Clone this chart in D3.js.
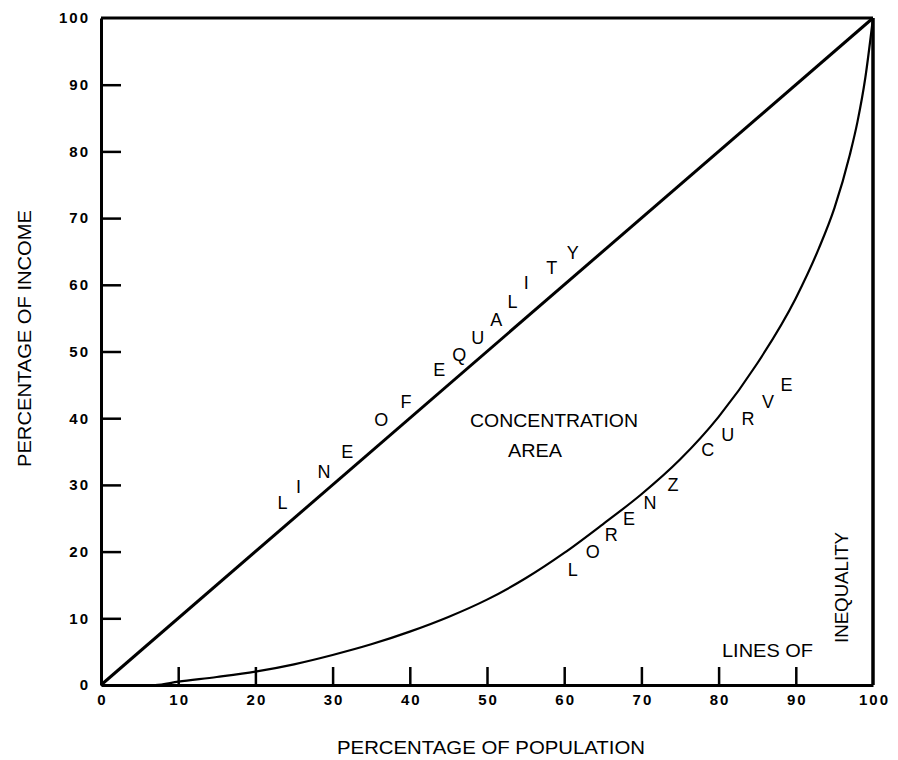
<!DOCTYPE html>
<html>
<head>
<meta charset="utf-8">
<script src="https://cdn.jsdelivr.net/npm/d3@7"></script>
<style>
  html, body { margin: 0; padding: 0; background: #fff; }
  svg { display: block; }
  text { font-family: "Liberation Sans", Arial, sans-serif; fill: #000; }
</style>
</head>
<body>
<svg id="chart" width="898" height="760"></svg>
<script>
// ---- data ----
const xTickValues = [0, 10, 20, 30, 40, 50, 60, 70, 80, 90, 100];
const yTickValues = [0, 10, 20, 30, 40, 50, 60, 70, 80, 90, 100];

const equalityX = [0, 100];
const equalityY = [0, 100];

const lorenzX = [0, 5, 7, 10, 15, 20, 25, 30, 35, 40, 45, 50, 55, 60, 65, 70, 75, 80, 85, 90, 93, 95, 97, 98, 99, 100];
const lorenzY = [0, 0, 0, 0.5, 1.2, 2.0, 3.1, 4.5, 6.1, 8.0, 10.2, 12.8, 16.0, 19.8, 24.1, 28.6, 33.8, 40.2, 48.2, 58.0, 65.5, 71.5, 79.5, 84.5, 91.0, 100];

const equalityLetters = ["L","I","N","E","O","F","E","Q","U","A","L","I","T","Y"];
const equalityLetterX = [23.5, 25.6, 28.9, 31.9, 36.3, 39.5, 43.8, 46.4, 48.8, 51.2, 53.3, 55.1, 58.4, 61.1];
const equalityLetterY = [27.3, 29.7, 31.9, 34.9, 39.7, 42.4, 47.2, 49.5, 52.0, 54.7, 57.4, 60.3, 62.5, 64.8];

const lorenzLetters = ["L","O","R","E","N","Z","C","U","R","V","E"];
const lorenzLetterX = [61.1, 63.7, 66.1, 68.4, 71.1, 74.1, 78.6, 81.2, 83.8, 86.4, 88.8];
const lorenzLetterY = [17.2, 19.9, 22.5, 24.9, 27.3, 30.0, 35.2, 37.5, 39.9, 42.4, 45.0];

const xTitle = "PERCENTAGE OF POPULATION";
const yTitle = "PERCENTAGE OF INCOME";
const areaLabel1 = "CONCENTRATION";
const areaLabel2 = "AREA";
const inequalityLabel1 = "LINES OF";
const inequalityLabel2 = "INEQUALITY";

// ---- layout ----
const svg = d3.select("#chart");
const x = d3.scaleLinear().domain([0, 100]).range([101, 873]);
const y = d3.scaleLinear().domain([0, 100]).range([685, 18]);

// frame: top and right lines
svg.append("line").attr("x1", x(0)).attr("x2", x(100)).attr("y1", y(100)).attr("y2", y(100))
  .attr("stroke", "#000").attr("stroke-width", 3);
svg.append("line").attr("x1", x(100)).attr("x2", x(100)).attr("y1", y(0)).attr("y2", y(100))
  .attr("stroke", "#000").attr("stroke-width", 3.5);

// left axis (ticks pointing inward)
const yAxis = d3.axisLeft(y).tickValues(yTickValues).tickSize(0).tickPadding(12);
const gy = svg.append("g").attr("transform", `translate(${x(0)},0)`).call(yAxis);
gy.select(".domain").attr("stroke", "#000").attr("stroke-width", 3);
gy.selectAll("text").attr("font-size", 15).attr("font-weight", "bold")
  .attr("letter-spacing", 2).attr("dx", "1");
gy.selectAll(".tick")
  .filter(d => d > 0 && d < 100)
  .append("line").attr("x1", 0).attr("x2", 20).attr("stroke", "#000").attr("stroke-width", 2.5);

// bottom axis (ticks pointing inward)
const xAxis = d3.axisBottom(x).tickValues(xTickValues).tickSize(0).tickPadding(12);
const gx = svg.append("g").attr("transform", `translate(0,${y(0)})`).call(xAxis);
gx.select(".domain").attr("stroke", "#000").attr("stroke-width", 3);
gx.selectAll("text").attr("font-size", 15).attr("font-weight", "bold")
  .attr("letter-spacing", 2).attr("dx", "1").attr("dy", "0.55em");
gx.selectAll(".tick")
  .filter(d => d > 0 && d < 100)
  .append("line").attr("y1", 0).attr("y2", -18).attr("stroke", "#000").attr("stroke-width", 2.5);

// line of equality
const eqData = equalityX.map((v, i) => [v, equalityY[i]]);
svg.append("path").datum(eqData)
  .attr("d", d3.line().x(d => x(d[0])).y(d => y(d[1])))
  .attr("fill", "none").attr("stroke", "#000").attr("stroke-width", 3);

// lorenz curve
const lzData = lorenzX.map((v, i) => [v, lorenzY[i]]);
svg.append("path").datum(lzData)
  .attr("d", d3.line().x(d => x(d[0])).y(d => y(d[1])).curve(d3.curveMonotoneX))
  .attr("fill", "none").attr("stroke", "#000").attr("stroke-width", 2.2);

// letters along curves
function letters(chars, xs, ys) {
  svg.append("g").selectAll("text").data(chars).join("text")
    .attr("x", (d, i) => x(xs[i]))
    .attr("y", (d, i) => y(ys[i]))
    .attr("text-anchor", "middle")
    .attr("dominant-baseline", "central")
    .attr("font-size", 18)
    .text(d => d);
}
letters(equalityLetters, equalityLetterX, equalityLetterY);
letters(lorenzLetters, lorenzLetterX, lorenzLetterY);

// concentration area
svg.append("text").attr("x", 554).attr("y", 427).attr("text-anchor", "middle")
  .attr("font-size", 19).attr("textLength", 168).attr("lengthAdjust", "spacingAndGlyphs")
  .text(areaLabel1);
svg.append("text").attr("x", 535).attr("y", 457).attr("text-anchor", "middle")
  .attr("font-size", 19).attr("textLength", 54).attr("lengthAdjust", "spacingAndGlyphs")
  .text(areaLabel2);

// lines of inequality
svg.append("text").attr("x", 722).attr("y", 657)
  .attr("font-size", 19).attr("textLength", 91).attr("lengthAdjust", "spacingAndGlyphs")
  .text(inequalityLabel1);
svg.append("text").attr("transform", "translate(848,643) rotate(-90)")
  .attr("font-size", 19).attr("textLength", 111).attr("lengthAdjust", "spacingAndGlyphs")
  .text(inequalityLabel2);

// axis titles
svg.append("text").attr("x", 491).attr("y", 754).attr("text-anchor", "middle")
  .attr("font-size", 19).attr("textLength", 308).attr("lengthAdjust", "spacingAndGlyphs")
  .text(xTitle);
svg.append("text").attr("transform", "translate(31,467) rotate(-90)")
  .attr("font-size", 19).attr("textLength", 257).attr("lengthAdjust", "spacingAndGlyphs")
  .text(yTitle);
</script>
</body>
</html>
